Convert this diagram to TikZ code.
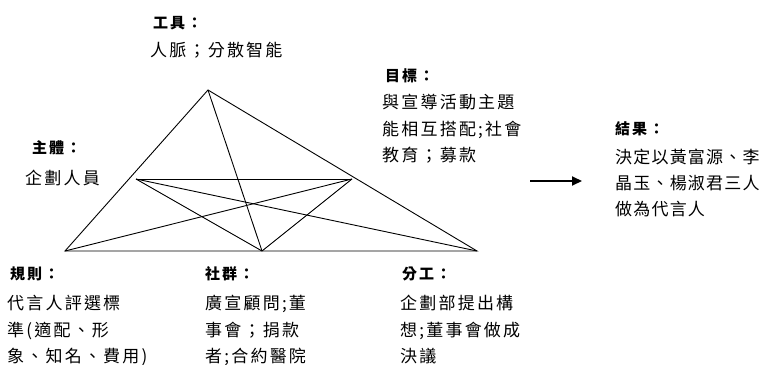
\documentclass[tikz,border=0pt]{standalone}
\usepackage{fontspec}
\usetikzlibrary{arrows.meta}
\newfontfamily\cjk[LetterSpace=13]{Noto Sans CJK TC}
\newfontfamily\cjknarrow[LetterSpace=7]{Noto Sans CJK TC}
\tikzset{
  ttl/.style={anchor=base west, inner sep=0pt, font=\cjk\bfseries\fontsize{15}{18}\selectfont},
  bodytxt/.style={anchor=base west, inner sep=0pt, align=left, font=\cjk\fontsize{17}{26.5}\selectfont},
  bodynarrow/.style={bodytxt, font=\cjknarrow\fontsize{17}{26}\selectfont},
  edge/.style={line width=0.9pt, black},
  bigarrow/.style={line width=2pt, -{Triangle[length=10pt,width=9pt]}}
}
\begin{document}
\begin{tikzpicture}[x=1pt,y=-1pt]
\useasboundingbox (0,0) rectangle (765,364);
% vertices
\coordinate (A) at (208,90);
\coordinate (BL) at (65,251);
\coordinate (BM) at (262,251);
\coordinate (BR) at (477,251);
\coordinate (ML) at (136,179);
\coordinate (MR) at (352,179);
\draw[edge] (BL) -- (A) -- (BR) -- cycle;
\draw[edge] (A) -- (BM);
\draw[edge] (ML) -- (MR);
\draw[edge] (ML) -- (BM);
\draw[edge] (ML) -- (BR);
\draw[edge] (MR) -- (BM);
\draw[edge] (MR) -- (BL);
% texts (base anchor = baseline of the last line)
\node[ttl] (t1) at (153,28) {工具：};
\node[bodytxt] (b1) at (150,56.5) {人脈；分散智能};
\node[ttl] (t2) at (32,153) {主體：};
\node[bodytxt] (b2) at (25,184.5) {企劃人員};
\node[ttl] (t3) at (385,81) {目標：};
\node[bodytxt] (b3) at (382,161.5) {與宣導活動主題\\能相互搭配;社會\\教育；募款};
\node[ttl] (t4) at (615,134) {結果：};
\node[bodynarrow] (b4) at (615,215) {決定以黃富源、李\\晶玉、楊淑君三人\\做為代言人};
\node[ttl] (t5) at (10,279) {規則：};
\node[bodytxt] (b5) at (7,362.5) {代言人評選標\\準(適配、形\\象、知名、費用)};
\node[ttl] (t6) at (205,279) {社群：};
\node[bodytxt] (b6) at (205,362.5) {廣宣顧問;董\\事會；捐款\\者;合約醫院};
\node[ttl] (t7) at (402,279) {分工：};
\node[bodytxt] (b7) at (400,362.5) {企劃部提出構\\想;董事會做成\\決議};
% arrow
\coordinate (arrS) at (530,181);
\coordinate (arrE) at (582,181);
\draw[bigarrow] (arrS) -- (arrE);
\end{tikzpicture}
\end{document}
